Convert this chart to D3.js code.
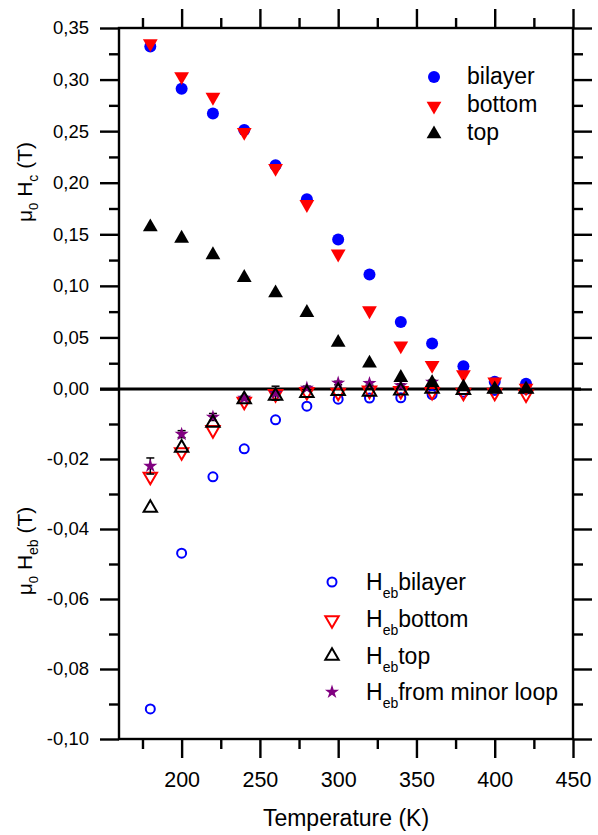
<!DOCTYPE html>
<html>
<head>
<meta charset="utf-8">
<script src="https://cdn.jsdelivr.net/npm/d3@7"></script>
<style>
  body { margin: 0; background: #fff; }
  svg { font-family: Arial, "Liberation Sans", sans-serif; }
</style>
</head>
<body>
<div id="chart"></div>
<script>
// data
var temps = [180, 200, 220, 240, 260, 280, 300, 320, 340, 360, 380, 400, 420];
var hcBilayer = [0.332, 0.291, 0.267, 0.251, 0.217, 0.184, 0.145, 0.111, 0.065, 0.044, 0.022, 0.007, 0.005];
var hcBottom  = [0.335, 0.303, 0.283, 0.249, 0.214, 0.179, 0.131, 0.076, 0.042, 0.023, 0.014, 0.007, 0.001];
var hcTop     = [0.157, 0.146, 0.130, 0.108, 0.093, 0.074, 0.045, 0.025, 0.011, 0.006, 0.002, 0.000, 0.000];

var hebBilayer = [-0.0914, -0.0469, -0.0251, -0.0171, -0.0088, -0.0049, -0.0029, -0.0026, -0.0025, -0.0016, -0.0009, -0.0004, -0.0001];
var hebBottom  = [-0.0250, -0.0180, -0.0117, -0.0036, -0.0014, -0.0008, -0.0010, -0.0004, -0.0005, -0.0008, -0.0010, -0.0010, -0.0015];
var hebTop     = [-0.0340, -0.0168, -0.0097, -0.0030, -0.0020, -0.0012, -0.0006, -0.0008, -0.0005, 0.0000, -0.0003, 0.0000, 0.0000];

var minorTemps  = [180, 200, 220, 240, 260, 280, 300, 320, 340, 360];
var hebMinor    = [-0.0220, -0.0129, -0.0080, -0.0026, -0.0012, 0.0003, 0.0017, 0.0016, 0.0010, 0.0020];
var hebMinorErr = [0.0023, 0.0010, 0.0010, 0.0005, 0.0020, 0.0005, 0.0005, 0.0005, 0.0005, 0.0005];

var xMajor = [200, 250, 300, 350, 400, 450];
var xMinor = [175, 225, 275, 325, 375, 425];
var yTopMajor = [0, 0.05, 0.10, 0.15, 0.20, 0.25, 0.30, 0.35];
var yTopMinor = [0.025, 0.075, 0.125, 0.175, 0.225, 0.275, 0.325];
var yBotMajor = [-0.02, -0.04, -0.06, -0.08, -0.10];
var yBotMinor = [-0.01, -0.03, -0.05, -0.07, -0.09];

var width = 598, height = 835;
var padL = 119, padR = 573, padT = 28, zeroY = 389, padB = 739;

var svg = d3.select("#chart").append("svg")
    .attr("width", width)
    .attr("height", height);

var x = d3.scaleLinear().domain([160, 450]).range([padL, padR]);
var yTop = d3.scaleLinear().domain([0, 0.35]).range([zeroY, padT]);
var yBot = d3.scaleLinear().domain([-0.10, 0]).range([padB, zeroY]);

var loc = d3.formatLocale({decimal: ",", thousands: ".", grouping: [3], currency: ["", ""], minus: "-"});
var fmt = loc.format(".2f");

function styleAxis(g, fontSize) {
    g.select(".domain").remove();
    g.selectAll("line").attr("stroke", "#000").attr("stroke-width", 2.4);
    g.selectAll("text").attr("fill", "#000").style("font-size", fontSize + "px")
        .style("font-family", "Arial, 'Liberation Sans', sans-serif");
}

// axes: major + minor, all four sides
function addAxis(axis, tx, ty, fontSize) {
    var g = svg.append("g").attr("transform", "translate(" + tx + "," + ty + ")").call(axis);
    styleAxis(g, fontSize || 18.5);
    return g;
}

addAxis(d3.axisLeft(yTop).tickValues(yTopMajor).tickSize(19).tickPadding(11).tickFormat(fmt), padL, 0);
addAxis(d3.axisLeft(yTop).tickValues(yTopMinor).tickSize(10).tickFormat(""), padL, 0);
addAxis(d3.axisLeft(yBot).tickValues(yBotMajor).tickSize(19).tickPadding(11).tickFormat(fmt), padL, 0);
addAxis(d3.axisLeft(yBot).tickValues(yBotMinor).tickSize(10).tickFormat(""), padL, 0);

addAxis(d3.axisRight(yTop).tickValues(yTopMajor).tickSize(19).tickFormat(""), padR, 0);
addAxis(d3.axisRight(yTop).tickValues(yTopMinor).tickSize(10).tickFormat(""), padR, 0);
addAxis(d3.axisRight(yBot).tickValues(yBotMajor).tickSize(19).tickFormat(""), padR, 0);
addAxis(d3.axisRight(yBot).tickValues(yBotMinor).tickSize(10).tickFormat(""), padR, 0);

addAxis(d3.axisBottom(x).tickValues(xMajor).tickSize(19).tickPadding(14).tickFormat(d3.format("d")), 0, padB, 21.5);
addAxis(d3.axisBottom(x).tickValues(xMinor).tickSize(10).tickFormat(""), 0, padB);
addAxis(d3.axisTop(x).tickValues(xMajor).tickSize(19).tickFormat(""), 0, padT);
addAxis(d3.axisTop(x).tickValues(xMinor).tickSize(10).tickFormat(""), 0, padT);

// frame
svg.append("rect")
    .attr("x", padL).attr("y", padT)
    .attr("width", padR - padL).attr("height", padB - padT)
    .attr("fill", "none").attr("stroke", "#000").attr("stroke-width", 2.4);

// zero line
svg.append("line")
    .attr("x1", padL - 19).attr("x2", padR + 8)
    .attr("y1", yTop(0)).attr("y2", yTop(0))
    .attr("stroke", "#000").attr("stroke-width", 3.2);

function rows(xs, ys) {
    return xs.map(function(t, i) { return {t: t, v: ys[i], i: i}; });
}

var triUp = d3.symbol().type(d3.symbolTriangle).size(95)();
var triOpen = d3.symbol().type(d3.symbolTriangle).size(78)();
var star = d3.symbol().type(d3.symbolStar).size(62)();

function filledCircles(data, y, color) {
    svg.append("g").selectAll("circle").data(data).enter().append("circle")
        .attr("cx", function(d) { return x(d.t); })
        .attr("cy", function(d) { return y(d.v); })
        .attr("r", 6).attr("fill", color);
}
function shapes(data, y, path, rot, fill, stroke) {
    svg.append("g").selectAll("path").data(data).enter().append("path")
        .attr("d", path)
        .attr("transform", function(d) { return "translate(" + x(d.t) + "," + y(d.v) + ")rotate(" + rot + ")"; })
        .attr("fill", fill)
        .attr("stroke", stroke || "none")
        .attr("stroke-width", stroke ? 2 : 0);
}

// bottom panel (exchange bias)
svg.append("g").selectAll("circle").data(rows(temps, hebBilayer)).enter().append("circle")
    .attr("cx", function(d) { return x(d.t); })
    .attr("cy", function(d) { return yBot(d.v); })
    .attr("r", 4.5).attr("fill", "none").attr("stroke", "#0000ff").attr("stroke-width", 2);
shapes(rows(temps, hebBottom), yBot, triOpen, 180, "none", "#ff0000");

// error bars of the minor loop points
var eb = svg.append("g").selectAll("g").data(rows(minorTemps, hebMinor)).enter().append("g");
eb.append("line")
    .attr("x1", function(d) { return x(d.t); }).attr("x2", function(d) { return x(d.t); })
    .attr("y1", function(d) { return yBot(d.v - hebMinorErr[d.i]); })
    .attr("y2", function(d) { return yBot(d.v + hebMinorErr[d.i]); })
    .attr("stroke", "#000").attr("stroke-width", 1.5);
[1, -1].forEach(function(s) {
    eb.append("line")
        .attr("x1", function(d) { return x(d.t) - 4; }).attr("x2", function(d) { return x(d.t) + 4; })
        .attr("y1", function(d) { return yBot(d.v + s * hebMinorErr[d.i]); })
        .attr("y2", function(d) { return yBot(d.v + s * hebMinorErr[d.i]); })
        .attr("stroke", "#000").attr("stroke-width", 1.5);
});

shapes(rows(minorTemps, hebMinor), yBot, star, 0, "#800080");
shapes(rows(temps, hebTop), yBot, triOpen, 0, "none", "#000");

// top panel (coercivity)
filledCircles(rows(temps, hcBilayer), yTop, "#0000ff");
shapes(rows(temps, hcBottom), yTop, triUp, 180, "#ff0000");
shapes(rows(temps, hcTop), yTop, triUp, 0, "#000");

// legends
var legTop = svg.append("g").style("font-size", "23px");
legTop.append("circle").attr("cx", 434).attr("cy", 77).attr("r", 6).attr("fill", "#0000ff");
legTop.append("path").attr("d", triUp).attr("transform", "translate(434,106)rotate(180)").attr("fill", "#ff0000");
legTop.append("path").attr("d", triUp).attr("transform", "translate(434,134)").attr("fill", "#000");
[["bilayer", 84], ["bottom", 112], ["top", 140]].forEach(function(r) {
    legTop.append("text").attr("x", 467).attr("y", r[1]).text(r[0]);
});

var legBot = svg.append("g").style("font-size", "23px");
legBot.append("circle").attr("cx", 332).attr("cy", 582).attr("r", 4.5)
    .attr("fill", "none").attr("stroke", "#0000ff").attr("stroke-width", 2);
legBot.append("path").attr("d", triOpen).attr("transform", "translate(332,620)rotate(180)")
    .attr("fill", "none").attr("stroke", "#ff0000").attr("stroke-width", 2);
legBot.append("path").attr("d", triOpen).attr("transform", "translate(332,656)")
    .attr("fill", "none").attr("stroke", "#000").attr("stroke-width", 2);
legBot.append("path").attr("d", star).attr("transform", "translate(332,692)").attr("fill", "#800080");
[["bilayer", 590], ["bottom", 627], ["top", 664], ["from minor loop", 700]].forEach(function(r) {
    var t = legBot.append("text").attr("x", 366).attr("y", r[1]);
    t.append("tspan").text("H");
    t.append("tspan").attr("dy", 8).style("font-size", "14px").text("eb");
    t.append("tspan").attr("dy", -8).text(r[0]);
});

// axis titles
function yTitle(cx, cy, sub) {
    var t = svg.append("text")
        .attr("transform", "translate(" + cx + "," + cy + ")rotate(-90)")
        .attr("text-anchor", "middle")
        .style("font-size", "21px");
    t.append("tspan").text("\u03bc");
    t.append("tspan").attr("dy", 6).style("font-size", "13px").text("0");
    t.append("tspan").attr("dy", -6).text(" H");
    t.append("tspan").attr("dy", 6).style("font-size", "14px").text(sub);
    t.append("tspan").attr("dy", -6).text(" (T)");
}
yTitle(32, 182, "c");
yTitle(32, 551, "eb");

svg.append("text")
    .attr("x", (padL + padR) / 2).attr("y", 826)
    .attr("text-anchor", "middle")
    .style("font-size", "23px")
    .text("Temperature (K)");
</script>
</body>
</html>
